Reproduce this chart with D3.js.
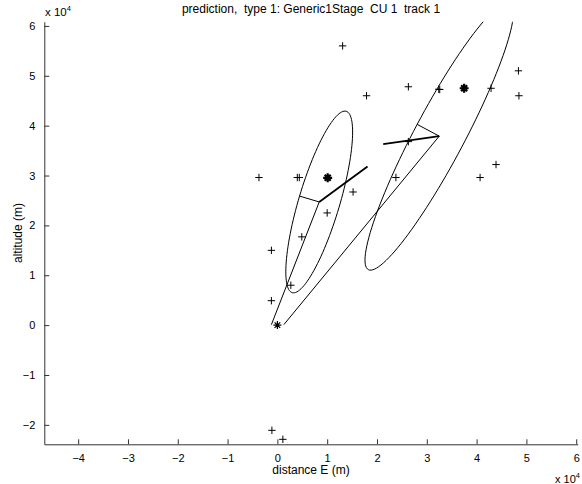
<!DOCTYPE html>
<html>
<head>
<meta charset="utf-8">
<script src="https://cdn.jsdelivr.net/npm/d3@7"></script>
<style>
  body { margin: 0; background: #fff; }
  text { font-family: "Liberation Sans", Arial, sans-serif; fill: #000; white-space: pre; }
</style>
</head>
<body>
<script>
// tick values (m)
var xTicks = [-40000, -30000, -20000, -10000, 0, 10000, 20000, 30000, 40000, 50000, 60000];
var yTicks = [-20000, -10000, 0, 10000, 20000, 30000, 40000, 50000, 60000];

// detections "+" (distance E, altitude)
var detections = [
  [13100, 56000], [17900, 46000], [26300, 47800], [32400, 47300], [32600, 47250],
  [42900, 47500], [48400, 51000], [48500, 46000], [43900, 32200], [40700, 29600],
  [23800, 29600], [26300, 36800], [-3700, 29600], [4000, 29600], [4400, 29600],
  [15200, 26700], [10000, 22500], [4900, 17700], [-1200, 15000], [2700, 8000],
  [-1200, 4900], [-1100, -21100], [1100, -22900]
];
// bold markers
var means = [[10100, 29550], [37500, 47500]];
// launch point
var origin = [[0, 0]];

// predicted positions: centre, semi axes, angle (deg)
var predCenters = [[8400, 24700], [32500, 37900]];
var predMajor = [18980, 30320];
var predMinor = [4120, 5020];
var predAngle = [73.4, 62];
// start of line to each prediction
var predStarts = [[-1200, 100], [1300, 100]];
// velocity segments
var velFrom = [[8400, 24700], [21250, 36300]];
var velTo = [[18100, 31800], [32500, 37900]];

function darplot() {
  var W = 582, H = 484;
  var svg = d3.select("body").append("svg")
    .attr("width", W)
    .attr("height", H);

  var x = d3.scaleLinear().domain([-46800, 60300]).range([44.3, 577.7]);
  var y = d3.scaleLinear().domain([-23900, 60850]).range([444.3, 21.7]);

  svg.append("clipPath").attr("id", "clip")
    .append("rect")
    .attr("x", 44.3).attr("y", 21.7)
    .attr("width", 577.7 - 44.3).attr("height", 444.3 - 21.7);

  var plot = svg.append("g").attr("clip-path", "url(#clip)");
  var line = d3.line().x(function(d) { return x(d[0]); }).y(function(d) { return y(d[1]); });

  //椭圆
  predCenters.forEach(function(c, i) {
    var a = predMajor[i], b = predMinor[i], t = predAngle[i] * Math.PI / 180;
    var pts = d3.range(0, 361, 3).map(function(k) {
      var s = k * Math.PI / 180;
      return [c[0] + a * Math.cos(s) * Math.cos(t) - b * Math.sin(s) * Math.sin(t),
              c[1] + a * Math.cos(s) * Math.sin(t) + b * Math.sin(s) * Math.cos(t)];
    });
    plot.append("path")
      .attr("d", line(pts))
      .attr("fill", "none")
      .attr("stroke", "#000")
      .attr("stroke-width", 1);
    // line from start to centre, then to the minor axis edge
    var edge = [c[0] + b * Math.cos(t + Math.PI / 2), c[1] + b * Math.sin(t + Math.PI / 2)];
    plot.append("path")
      .attr("d", line([predStarts[i], c, edge]))
      .attr("fill", "none")
      .attr("stroke", "#000")
      .attr("stroke-width", 1);
  });

  //速度
  velFrom.forEach(function(p, i) {
    plot.append("path")
      .attr("d", line([p, velTo[i]]))
      .attr("stroke", "#000")
      .attr("stroke-width", 1.8);
  });

  // + markers
  var r = 3.7;
  detections.forEach(function(d) {
    var cx = x(d[0]), cy = y(d[1]);
    plot.append("path")
      .attr("d", "M" + (cx - r) + "," + cy + "H" + (cx + r) + "M" + cx + "," + (cy - r) + "V" + (cy + r))
      .attr("stroke", "#000")
      .attr("stroke-width", 1);
  });

  means.forEach(function(d) {
    var cx = x(d[0]), cy = y(d[1]), q = 3;
    plot.append("path")
      .attr("d", "M" + (cx - 4.5) + "," + cy + "H" + (cx + 4.5) + "M" + cx + "," + (cy - 4.5) + "V" + (cy + 4.5) +
        "M" + (cx - q) + "," + (cy - q) + "L" + (cx + q) + "," + (cy + q) +
        "M" + (cx - q) + "," + (cy + q) + "L" + (cx + q) + "," + (cy - q))
      .attr("stroke", "#000")
      .attr("stroke-width", 2.2);
  });

  origin.forEach(function(d) {
    var cx = x(d[0]), cy = y(d[1]), q = 2.8;
    plot.append("path")
      .attr("d", "M" + (cx - 4) + "," + cy + "H" + (cx + 4) + "M" + cx + "," + (cy - 4) + "V" + (cy + 4) +
        "M" + (cx - q) + "," + (cy - q) + "L" + (cx + q) + "," + (cy + q) +
        "M" + (cx - q) + "," + (cy + q) + "L" + (cx + q) + "," + (cy - q))
      .attr("stroke", "#000")
      .attr("stroke-width", 1.2);
  });

  //坐标轴
  var fmt = function(v) { return d3.format("d")(v / 10000).replace("-", "\u2212"); };
  var gx = svg.append("g")
    .attr("transform", "translate(0,444.3)")
    .call(d3.axisBottom(x).tickValues(xTicks).tickFormat(fmt).tickSize(-5).tickSizeOuter(0).tickPadding(10));
  var gy = svg.append("g")
    .attr("transform", "translate(44.3,0)")
    .call(d3.axisLeft(y).tickValues(yTicks).tickFormat(fmt).tickSize(-5).tickSizeOuter(0).tickPadding(9));
  [gx, gy].forEach(function(g) {
    g.select(".domain").attr("stroke", "#333");
    g.selectAll(".tick line").attr("stroke", "#333");
    g.selectAll("text").attr("font-family", "Liberation Sans, Arial, sans-serif").attr("font-size", 11).attr("fill", "#000");
  });

  svg.append("text")
    .attr("x", 311).attr("y", 13)
    .attr("text-anchor", "middle")
    .attr("font-size", 12)
    .text("prediction,  type 1: Generic1Stage  CU 1  track 1");

  svg.append("text")
    .attr("x", 311).attr("y", 474)
    .attr("text-anchor", "middle")
    .attr("font-size", 12)
    .text("distance E (m)");

  svg.append("text")
    .attr("transform", "translate(22,233) rotate(-90)")
    .attr("text-anchor", "middle")
    .attr("font-size", 12)
    .text("altitude (m)");

  //x 10^4
  var e1 = svg.append("text").attr("x", 45).attr("y", 16).attr("font-size", 11.5);
  e1.append("tspan").text("x 10");
  e1.append("tspan").attr("dy", -5).attr("font-size", 7.5).text("4");
  var e2 = svg.append("text").attr("x", 555).attr("y", 483).attr("font-size", 11);
  e2.append("tspan").text("x 10");
  e2.append("tspan").attr("dy", -5).attr("font-size", 7.5).text("4");
}

darplot()
</script>
</body>
</html>
